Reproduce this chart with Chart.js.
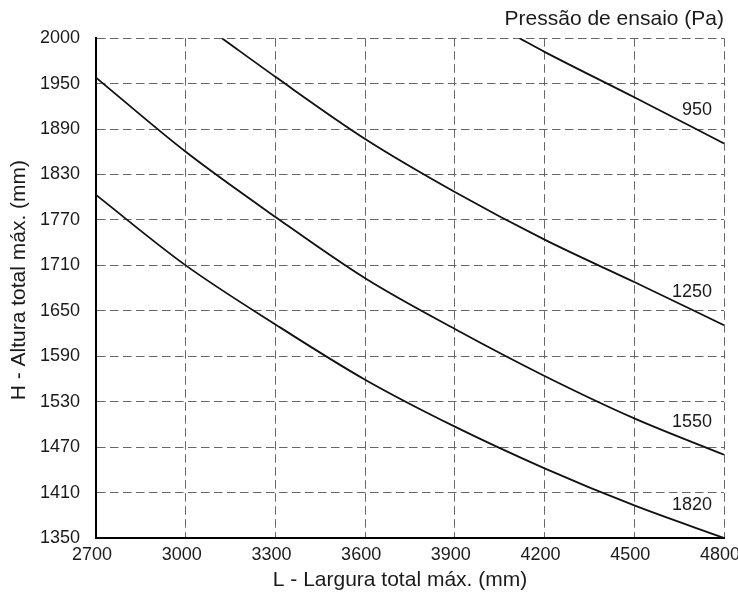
<!DOCTYPE html>
<html>
<head>
<meta charset="utf-8">
<script src="https://cdn.jsdelivr.net/npm/chart.js@4.4.0/dist/chart.umd.min.js"></script>
<style>
  html, body { margin: 0; padding: 0; background: #fff; }
</style>
</head>
<body>
<canvas id="chart" width="738" height="596"></canvas>
<script>
// test pressures, one curve each
const pressures = ['950', '1250', '1550', '1820'];

// [L, H] pairs (top of axis sits at 2010 on the linear scale)
const curve950 = [[4116, 2010], [4200, 1992], [4500, 1932], [4800, 1871]];
const curve1250 = [[3121, 2010], [3300, 1959], [3600, 1877], [3900, 1807], [4200, 1744], [4500, 1688], [4800, 1631]];
const curve1550 = [[2700, 1958], [3000, 1860], [3300, 1774], [3600, 1693], [3900, 1626], [4200, 1564], [4500, 1508], [4800, 1460]];
const curve1820 = [[2700, 1803], [3000, 1710], [3300, 1632], [3600, 1559], [3900, 1497], [4200, 1442], [4500, 1393], [4800, 1350]];
const curves = [curve950, curve1250, curve1550, curve1820];

const xTicks = [2700, 3000, 3300, 3600, 3900, 4200, 4500, 4800];
const yTickLabels = ['1350', '1410', '1470', '1530', '1590', '1650', '1710', '1770', '1830', '1890', '1950', '2000'];

const title = 'Pressão de ensaio (Pa)';
const xTitle = 'L - Largura total máx. (mm)';
const yTitle = 'H - Altura total máx. (mm)';

const FONT = "'Liberation Sans', Arial, sans-serif";
Chart.defaults.font.family = FONT;
Chart.defaults.color = '#1a1a1a';

const yStart = 1350, yStep = 60;

// axis titles + curve labels
const chartText = {
  id: 'chartText',
  afterDraw(chart) {
    const { ctx, chartArea: a, scales: { y } } = chart;
    ctx.save();
    ctx.fillStyle = '#1a1a1a';
    ctx.font = '21px ' + FONT;
    ctx.textAlign = 'center';
    ctx.textBaseline = 'middle';
    ctx.fillText(xTitle, (a.left + a.right) / 2 - 10, 580);
    ctx.translate(19, (a.top + a.bottom) / 2 - 8);
    ctx.rotate(-Math.PI / 2);
    ctx.fillText(yTitle, 0, 0);
    ctx.restore();

    ctx.save();
    ctx.fillStyle = '#1a1a1a';
    ctx.font = '18px ' + FONT;
    ctx.textAlign = 'right';
    ctx.textBaseline = 'middle';
    chart.data.datasets.forEach(ds => {
      const last = ds.data[ds.data.length - 1];
      ctx.fillText(ds.label, a.right - 12, y.getPixelForValue(last.y) - 33);
    });
    ctx.restore();
  }
};

new Chart(document.getElementById('chart'), {
  type: 'line',
  data: {
    datasets: pressures.map((p, i) => ({
      label: p,
      data: curves[i].map(([x, y]) => ({ x, y })),
      borderColor: '#111',
      borderWidth: 1.8,
      pointRadius: 0,
      cubicInterpolationMode: 'monotone',
      fill: false
    }))
  },
  options: {
    responsive: false,
    animation: false,
    devicePixelRatio: 1,
    layout: { padding: { left: 0, right: 14, top: 0, bottom: 0 } },
    plugins: {
      legend: { display: false },
      tooltip: { enabled: false },
      title: {
        display: true,
        text: title,
        align: 'end',
        color: '#1a1a1a',
        font: { size: 21, weight: 'normal' },
        padding: { top: 7, bottom: 6 }
      }
    },
    scales: {
      x: {
        type: 'linear',
        min: 2700,
        max: 4800,
        afterBuildTicks: s => { s.ticks = xTicks.map(v => ({ value: v })); },
        afterFit: s => { s.height = 58; s.paddingRight = 0; },
        grid: { color: '#666', lineWidth: 1, drawTicks: false },
        border: { display: true, color: '#000', width: 2, dash: [8.5, 4.5] },
        ticks: { font: { size: 18 }, padding: 6, labelOffset: -4, maxRotation: 0, color: '#1a1a1a', callback: v => String(v) }
      },
      y: {
        type: 'linear',
        min: yStart,
        max: yStart + yStep * (yTickLabels.length - 1),
        afterBuildTicks: s => { s.ticks = yTickLabels.map((_, i) => ({ value: yStart + yStep * i })); },
        afterFit: s => { s.width = 96; },
        grid: { color: '#666', lineWidth: 1, drawTicks: false },
        border: { display: true, color: '#000', width: 2, dash: [8.5, 4.5] },
        ticks: {
          font: { size: 18 },
          padding: 16,
          color: '#1a1a1a',
          callback: v => yTickLabels[Math.round((v - yStart) / yStep)]
        }
      }
    }
  },
  plugins: [chartText]
});
</script>
</body>
</html>
